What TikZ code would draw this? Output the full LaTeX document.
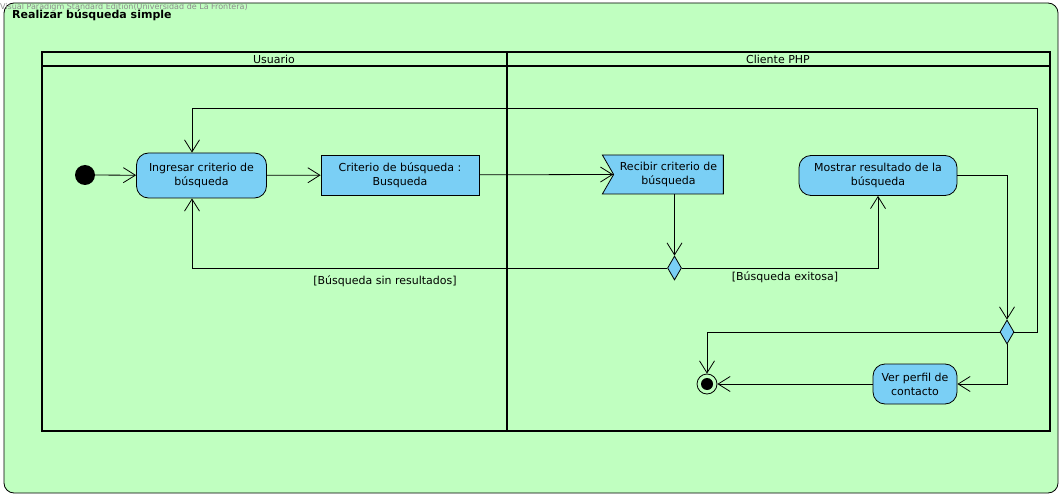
\documentclass[tikz,border=0pt]{standalone}
\usepackage{fontspec}
\setmainfont{DejaVu Sans}
\usetikzlibrary{arrows.meta,positioning,shapes.geometric,shapes.symbols}

\definecolor{vpgreen}{HTML}{C0FFC0}
\definecolor{vpblue}{HTML}{7ACFF5}
\newcommand{\vpfont}{\fontsize{11}{14}\selectfont}

\begin{document}
\begin{tikzpicture}[x=1pt, y=-1pt,
    action/.style={rectangle, draw, rounded corners=12pt, fill=vpblue, line width=0.8pt,
        text centered, align=center, font=\vpfont, inner sep=0pt},
    object/.style={rectangle, draw, fill=vpblue, line width=0.8pt,
        text centered, align=center, font=\vpfont, inner sep=0pt},
    accept/.style={signal, signal to=nowhere, signal from=west, signal pointer angle=120,
        draw, fill=vpblue, line width=0.8pt, align=center, font=\vpfont, inner sep=0pt},
    decision/.style={diamond, draw, fill=vpblue, line width=0.8pt, inner sep=0pt,
        minimum width=14pt, minimum height=24pt},
    initial/.style={circle, fill=black, inner sep=0pt, minimum size=20pt},
    final/.style={circle, draw, fill=vpgreen, line width=0.8pt, inner sep=0pt, minimum size=20pt},
    flow/.style={line width=0.8pt, -{Straight Barb[length=12pt, width=15pt, line width=0.8pt]}},
    guard/.style={font=\vpfont},
    lane/.style={draw, line width=1.6pt}
    ]
    \useasboundingbox (0,0) rectangle (1063,497);
    % frame
    \draw[fill=vpgreen, rounded corners=10pt, line width=0.8pt] (4,3) rectangle (1058,493);
    \node (Watermark) [anchor=west, inner sep=0pt, text=black!45, font=\fontsize{8}{8}\selectfont] at (0,7)
        {Visual Paradigm Standard Edition(Universidad de La Frontera)};
    \node (Title) [anchor=west, inner sep=0pt, font=\fontsize{11}{12}\selectfont\bfseries] at (12,15)
        {Realizar búsqueda simple};
    % swimlanes
    \draw[lane] (42,52) rectangle (1050,431);
    \draw[lane] (42,66) -- (1050,66);
    \draw[lane] (507,52) -- (507,431);
    \node (LaneUser) [font=\vpfont] at (274,59) {Usuario};
    \node (LanePHP) [font=\vpfont] at (778,59) {Cliente PHP};

    % nodes
    \node (Initial) [initial] at (85,175) {};
    \node (Action01) [action, minimum width=130pt, minimum height=45pt] at (201.5,175.5)
        {Ingresar criterio de\\búsqueda};
    \node (Object01) [object, minimum width=158pt, minimum height=40pt] at (400,175)
        {Criterio de búsqueda :\\Busqueda};
    \node (Action02) [accept, minimum width=121pt, minimum height=39pt] at (668.5,174.5)
        {Recibir criterio de\\búsqueda};
    \node (Action03) [action, minimum width=158pt, minimum height=40pt] at (878,175.5)
        {Mostrar resultado de la\\búsqueda};
    \node (Decision01) [decision] at (674.5,268) {};
    \node (Decision02) [decision] at (1007,332) {};
    \node (Action04) [action, minimum width=84pt, minimum height=40pt] at (915,384)
        {Ver perfil de\\contacto};
    \node (Final) [final] at (707,384) {};
    \node (FinalDot) [circle, fill=black, inner sep=0pt, minimum size=12pt] at (Final) {};
    \coordinate (LoopCorner) at (1037,108);

    % flows
    \draw[flow] (Initial) -- (Action01);
    \draw[flow] (Action01) -- (Object01);
    \draw[flow] (Object01) -- (Action02.west);
    \draw[flow] (Decision01.north |- Action02.south) -- (Decision01.north);
    \draw[flow] (Decision01.west) -| ([xshift=-9.5pt]Action01.south);
    \draw[flow] (Decision01.east) -| (Action03.south);
    \draw[flow] (Action03.east) -| (Decision02.north);
    \draw[flow] (Decision02.east) -| (LoopCorner) -| ([xshift=-9.5pt]Action01.north);
    \draw[flow] (Decision02.west) -| (Final.north);
    \draw[flow] (Decision02.south) |- (Action04.east);
    \draw[flow] (Action04) -- (Final);

    % guards
    \node (Guard01) [guard] at (385,281) {[Búsqueda sin resultados]};
    \node (Guard02) [guard] at (785,277) {[Búsqueda exitosa]};
\end{tikzpicture}
\end{document}
